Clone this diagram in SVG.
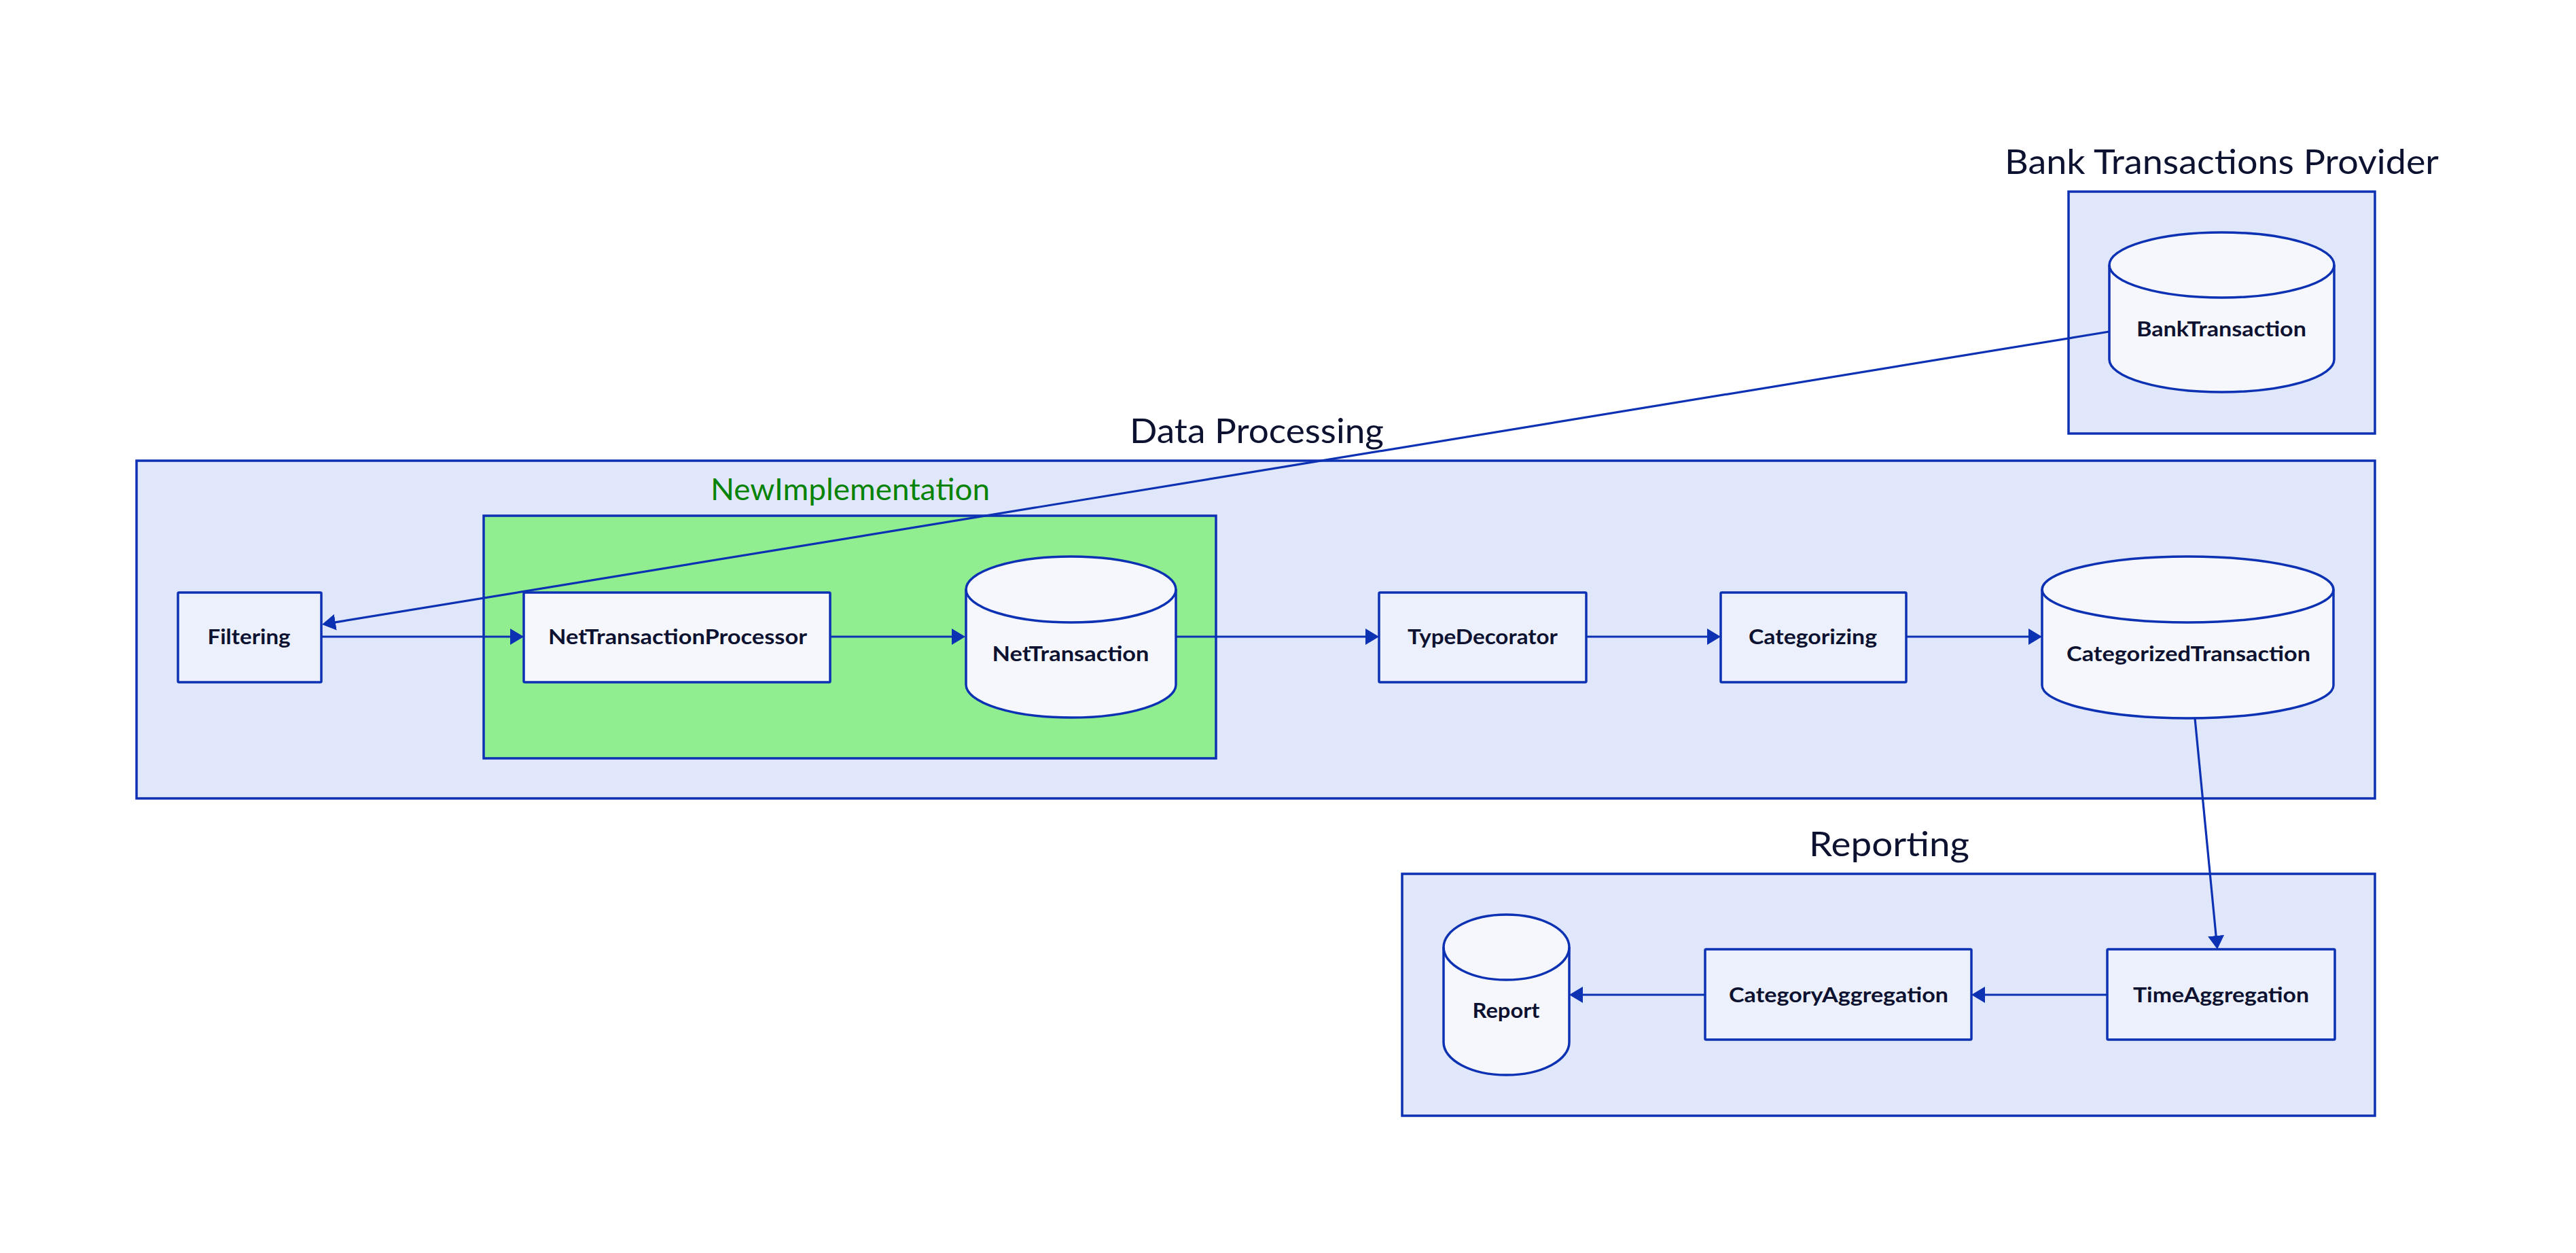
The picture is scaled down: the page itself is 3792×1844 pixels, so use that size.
<svg xmlns="http://www.w3.org/2000/svg" width="3792" height="1844" viewBox="0 0 3792 1844">
<style>
.cluster{fill:#e1e7fa;stroke:#0c31b3;stroke-width:3.5}
.green{fill:#90ee90;stroke:#0c31b3;stroke-width:3.5}
.box{fill:#ecf0fc;stroke:#0c31b3;stroke-width:3.5}
.boxw{fill:#f5f7fd;stroke:#0c31b3;stroke-width:3.5}
.cyl{fill:#f6f7fd;stroke:#0c31b3;stroke-width:3.5}
.cylline{fill:none;stroke:#0c31b3;stroke-width:3.5}
.title{font-family:Lato,"Open Sans",sans-serif;font-size:51px;fill:#0d1230;text-anchor:middle}
.gtitle{font-family:Lato,"Open Sans",sans-serif;font-size:44px;fill:#078307;text-anchor:middle}
.lbl{font-family:Lato,"Open Sans",sans-serif;font-weight:700;font-size:30px;fill:#0d1230;text-anchor:middle}
.edge{fill:none;stroke:#0c31b3;stroke-width:3.2}
</style>
<defs>
<marker id="arr" viewBox="0 0 20 24" refX="2" refY="12" markerWidth="20" markerHeight="24" markerUnits="userSpaceOnUse" orient="auto">
<path d="M0,0 L20,12 L0,24 z" fill="#0c31b3"/>
</marker>
</defs>
<rect width="3792" height="1844" fill="#ffffff"/>

<g id="cluster-bank">
<rect class="cluster" x="3045" y="282" width="451" height="356"/>
<text class="title" x="3270.5" y="256" textLength="639" lengthAdjust="spacingAndGlyphs">Bank Transactions Provider</text>
</g>
<g id="cluster-processing">
<rect class="cluster" x="201" y="678" width="3295" height="497"/>
<text class="title" x="1850" y="652" textLength="374" lengthAdjust="spacingAndGlyphs">Data Processing</text>
</g>
<g id="cluster-newimpl">
<rect class="green" x="712" y="759" width="1078" height="357"/>
<text class="gtitle" x="1251.5" y="736" textLength="411" lengthAdjust="spacingAndGlyphs">NewImplementation</text>
</g>
<g id="cluster-reporting">
<rect class="cluster" x="2064" y="1286" width="1432" height="356"/>
<text class="title" x="2781" y="1260" textLength="236" lengthAdjust="spacingAndGlyphs">Reporting</text>
</g>

<g id="node-BankTransaction">
<path class="cyl" d="M3105,390 a165.5,48 0 0 1 331,0 l0,139 a165.5,48 0 0 1 -331,0 z"/>
<path class="cylline" d="M3105,390 a165.5,48 0 0 0 331,0"/>
<text class="lbl" x="3270" y="495" textLength="250" lengthAdjust="spacingAndGlyphs">BankTransaction</text>
</g>
<g id="node-Filtering">
<rect class="box" x="262" y="872" width="211" height="132" rx="1.5"/>
<text class="lbl" x="366.5" y="948" textLength="122" lengthAdjust="spacingAndGlyphs">Filtering</text>
</g>
<g id="node-NetTransactionProcessor">
<rect class="boxw" x="771" y="872" width="451" height="132" rx="1.5"/>
<text class="lbl" x="997.5" y="948" textLength="381" lengthAdjust="spacingAndGlyphs">NetTransactionProcessor</text>
</g>
<g id="node-NetTransaction">
<path class="cyl" d="M1422,867.5 a154.5,48.5 0 0 1 309,0 l0,140 a154.5,48.5 0 0 1 -309,0 z"/>
<path class="cylline" d="M1422,867.5 a154.5,48.5 0 0 0 309,0"/>
<text class="lbl" x="1576" y="973" textLength="231" lengthAdjust="spacingAndGlyphs">NetTransaction</text>
</g>
<g id="node-TypeDecorator">
<rect class="box" x="2030" y="872" width="305" height="132" rx="1.5"/>
<text class="lbl" x="2182.5" y="948" textLength="221" lengthAdjust="spacingAndGlyphs">TypeDecorator</text>
</g>
<g id="node-Categorizing">
<rect class="box" x="2533" y="872" width="273" height="132" rx="1.5"/>
<text class="lbl" x="2668.5" y="948" textLength="189" lengthAdjust="spacingAndGlyphs">Categorizing</text>
</g>
<g id="node-CategorizedTransaction">
<path class="cyl" d="M3006,867.5 a214.5,48.5 0 0 1 429,0 l0,141 a214.5,48.5 0 0 1 -429,0 z"/>
<path class="cylline" d="M3006,867.5 a214.5,48.5 0 0 0 429,0"/>
<text class="lbl" x="3221.5" y="973" textLength="359" lengthAdjust="spacingAndGlyphs">CategorizedTransaction</text>
</g>
<g id="node-TimeAggregation">
<rect class="box" x="3102" y="1397" width="335" height="133" rx="1.5"/>
<text class="lbl" x="3269.5" y="1475" textLength="259" lengthAdjust="spacingAndGlyphs">TimeAggregation</text>
</g>
<g id="node-CategoryAggregation">
<rect class="box" x="2510" y="1397" width="392" height="133" rx="1.5"/>
<text class="lbl" x="2706.5" y="1475" textLength="323" lengthAdjust="spacingAndGlyphs">CategoryAggregation</text>
</g>
<g id="node-Report">
<path class="cyl" d="M2125,1394 a92.5,48 0 0 1 185,0 l0,140 a92.5,48 0 0 1 -185,0 z"/>
<path class="cylline" d="M2125,1394 a92.5,48 0 0 0 185,0"/>
<text class="lbl" x="2217" y="1498" textLength="99" lengthAdjust="spacingAndGlyphs">Report</text>
</g>

<g id="connectors">
<path class="edge" marker-end="url(#arr)" d="M3105,488 L491.8,916.1"/>
<path class="edge" marker-end="url(#arr)" d="M473,937 L753,937"/>
<path class="edge" marker-end="url(#arr)" d="M1222,937 L1403,937"/>
<path class="edge" marker-end="url(#arr)" d="M1731,937 L2012,937"/>
<path class="edge" marker-end="url(#arr)" d="M2335,937 L2515,937"/>
<path class="edge" marker-end="url(#arr)" d="M2806,937 L2988,937"/>
<path class="edge" marker-end="url(#arr)" d="M3231,1057 L3262.3,1379.1"/>
<path class="edge" marker-end="url(#arr)" d="M3102,1464 L2920,1464"/>
<path class="edge" marker-end="url(#arr)" d="M2510,1464 L2328,1464"/>
</g>
</svg>
